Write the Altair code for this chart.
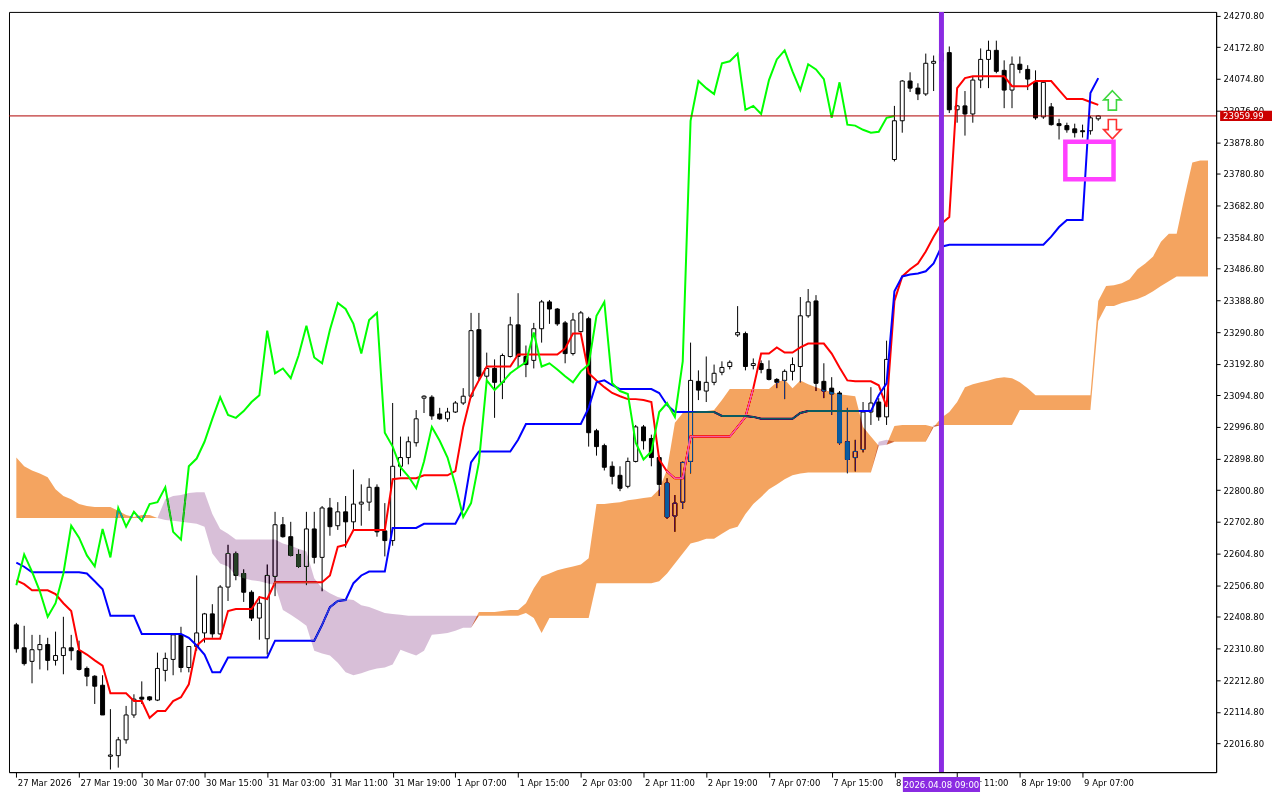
import altair as alt
import pandas as pd

# ---------------- candle data (H1 bars, index 0..138) ----------------
opens = [22384, 22313, 22271, 22307, 22323, 22274, 22289, 22313, 22304, 22249,
         22225, 22197, 21977, 21979, 22028, 22105, 22160, 22161, 22151, 22243,
         22277, 22353, 22252, 22317, 22359, 22418, 22356, 22501, 22605, 22543,
         22485, 22405, 22341, 22534, 22694, 22657, 22602, 22565, 22681, 22593,
         22746, 22691, 22734, 22703, 22758, 22764, 22810, 22675, 22645, 22875,
         22902, 22948, 23086, 23089, 23037, 23022, 23043, 23071, 23092, 23298,
         23154, 23178, 23135, 23215, 23313, 23215, 23203, 23301, 23384, 23362,
         23319, 23224, 23292, 23332, 22985, 22939, 22875, 22847, 22813, 22890,
         22997, 22961, 22902, 22823, 22721, 22764, 22890, 23138, 23108, 23135,
         23166, 23184, 23282, 23286, 23187, 23193, 23175, 23144, 23141, 23169,
         23184, 23341, 23387, 23138, 23117, 23102, 22951, 22902, 22927, 23043,
         23074, 23028, 23825, 23945, 24068, 24046, 24028, 24123, 24129, 24156,
         23979, 23991, 23966, 24071, 24135, 24163, 24101, 24040, 24120, 24104,
         24064, 23957, 23988, 23936, 23930, 23920, 23914, 23914, 23951]
highs = [22390, 22381, 22353, 22353, 22344, 22363, 22409, 22353, 22335, 22255,
         22228, 22228, 22123, 22037, 22133, 22169, 22209, 22163, 22298, 22298,
         22353, 22378, 22317, 22537, 22421, 22448, 22507, 22632, 22611, 22556,
         22491, 22473, 22571, 22734, 22718, 22703, 22617, 22734, 22734, 22752,
         22777, 22764, 22783, 22865, 22819, 22838, 22819, 22761, 23071, 22967,
         22967, 23049, 23095, 23095, 23056, 23056, 23077, 23117, 23350, 23350,
         23227, 23206, 23224, 23338, 23411, 23249, 23319, 23390, 23390, 23365,
         23325, 23350, 23356, 23338, 22991, 22945, 22890, 22875, 22902, 23003,
         23003, 22973, 22908, 22838, 22786, 22890, 23258, 23172, 23215, 23190,
         23200, 23203, 23371, 23292, 23209, 23203, 23203, 23148, 23175, 23212,
         23399, 23424, 23405, 23194, 23151, 23108, 23056, 22957, 23074, 23120,
         23086, 23264, 23991, 24071, 24095, 24061, 24153, 24147, 24169, 24175,
         23994, 24037, 24083, 24169, 24193, 24193, 24132, 24144, 24144, 24117,
         24101, 24071, 24000, 23951, 23939, 23936, 23933, 23960, 23962]
lows = [22298, 22258, 22203, 22246, 22243, 22258, 22231, 22274, 22243, 22194,
        22139, 22105, 21936, 21942, 22016, 22096, 22139, 22148, 22148, 22209,
        22228, 22237, 22237, 22304, 22329, 22344, 22353, 22458, 22522, 22455,
        22396, 22338, 22292, 22473, 22654, 22596, 22560, 22507, 22574, 22488,
        22660, 22678, 22623, 22675, 22691, 22737, 22657, 22596, 22629, 22844,
        22881, 22936, 23040, 23019, 23019, 23013, 23040, 23065, 23086, 23141,
        23141, 23025, 23083, 23212, 23181, 23151, 23178, 23258, 23316, 23310,
        23194, 23218, 23289, 22936, 22908, 22862, 22819, 22798, 22807, 22887,
        22927, 22875, 22783, 22712, 22672, 22743, 22853, 23080, 23074, 23126,
        23157, 23175, 23276, 23172, 23175, 23163, 23141, 23117, 23083, 23141,
        23135, 23335, 23108, 23086, 23034, 22942, 22853, 22859, 22918, 23003,
        23016, 23003, 23819, 23908, 24034, 24009, 24022, 24037, 24117, 23969,
        23939, 23899, 23939, 24046, 24046, 24092, 23984, 23984, 24092, 24040,
        23948, 23951, 23930, 23887, 23908, 23893, 23893, 23902, 23945]
closes = [22310, 22264, 22307, 22323, 22274, 22289, 22313, 22304, 22246, 22225,
          22194, 22105, 21981, 22028, 22105, 22154, 22154, 22152, 22249, 22280,
          22353, 22252, 22317, 22359, 22418, 22356, 22501, 22605, 22537, 22485,
          22405, 22451, 22537, 22694, 22657, 22599, 22565, 22681, 22593, 22746,
          22688, 22734, 22703, 22758, 22764, 22810, 22672, 22645, 22875, 22902,
          22951, 23022, 23092, 23031, 23022, 23043, 23071, 23092, 23295, 23154,
          23178, 23135, 23218, 23313, 23215, 23190, 23301, 23384, 23362, 23316,
          23224, 23328, 23350, 22979, 22936, 22872, 22844, 22807, 22890, 22997,
          22954, 22902, 22819, 22718, 22761, 22887, 23141, 23111, 23135, 23163,
          23181, 23197, 23289, 23184, 23193, 23175, 23144, 23135, 23169, 23190,
          23341, 23384, 23132, 23108, 23099, 22948, 22896, 22921, 23043, 23071,
          23028, 23206, 23945, 24068, 24046, 24028, 24123, 24129, 24153, 23979,
          23991, 23966, 24071, 24135, 24163, 24098, 24040, 24120, 24104, 24074,
          23954, 24064, 23933, 23930, 23917, 23908, 23911, 23954, 23960]

# ---------------- Ichimoku lines ----------------
tenkan = [22522, 22510, 22491, 22491, 22491, 22479, 22451, 22427, 22307, 22292,
          22274, 22258, 22172, 22172, 22172, 22148, 22148, 22096, 22117, 22117,
          22148, 22160, 22200, 22320, 22341, 22341, 22341, 22427, 22433, 22433,
          22433, 22470, 22464, 22516, 22516, 22516, 22516, 22516, 22516, 22516,
          22537, 22626, 22632, 22678, 22678, 22678, 22678, 22678, 22835, 22838,
          22838, 22838, 22847, 22847, 22847, 22847, 22860, 22997, 23095, 23141,
          23184, 23184, 23184, 23184, 23221, 23221, 23221, 23221, 23221, 23221,
          23240, 23286, 23286, 23163, 23141, 23120, 23102, 23092, 23083, 23083,
          23080, 23074, 22896, 22859, 22838, 22838, 22967, 22967, 22967, 22967,
          22967, 22967, 22997, 23028, 23117, 23224, 23224, 23243, 23227, 23227,
          23243, 23255, 23255, 23255, 23224, 23181, 23141, 23138, 23138, 23138,
          23126, 23059, 23387, 23463, 23485, 23503, 23540, 23586, 23626, 23647,
          24046, 24077, 24083, 24083, 24083, 24083, 24083, 24052, 24052, 24052,
          24068, 24068, 24068, 24040, 24012, 24012, 24012, 24003, 23994]
kijun = [22577, 22564, 22547, 22547, 22547, 22547, 22547, 22547, 22547, 22543,
         22519, 22494, 22412, 22412, 22412, 22412, 22356, 22356, 22356, 22356,
         22356, 22356, 22344, 22320, 22292, 22237, 22237, 22283, 22283, 22283,
         22283, 22283, 22283, 22335, 22335, 22335, 22335, 22335, 22335, 22384,
         22439, 22458, 22461, 22513, 22537, 22549, 22549, 22549, 22684, 22684,
         22684, 22684, 22697, 22697, 22697, 22697, 22697, 22743, 22887, 22921,
         22921, 22921, 22921, 22921, 22957, 23006, 23006, 23006, 23006, 23006,
         23006, 23006, 23006, 23056, 23135, 23141, 23126, 23114, 23114, 23114,
         23114, 23114, 23102, 23065, 23043, 23043, 23043, 23043, 23043, 23043,
         23031, 23031, 23031, 23031, 23028, 23022, 23022, 23022, 23022, 23022,
         23040, 23046, 23046, 23046, 23046, 23046, 23046, 23046, 23046, 23046,
         23095, 23132, 23417, 23463, 23469, 23472, 23479, 23503, 23555, 23561,
         23561, 23561, 23561, 23561, 23561, 23561, 23561, 23561, 23561, 23561,
         23561, 23561, 23586, 23616, 23638, 23638, 23638, 24031, 24077]
chikou = [22507, 22602, 22549, 22488, 22409, 22451, 22543, 22691, 22654, 22599,
          22565, 22681, 22593, 22746, 22688, 22734, 22706, 22758, 22764, 22810,
          22672, 22648, 22875, 22899, 22951, 23022, 23089, 23034, 23025, 23046,
          23074, 23095, 23295, 23163, 23178, 23148, 23218, 23310, 23212, 23194,
          23298, 23381, 23362, 23316, 23224, 23328, 23350, 22979, 22936, 22872,
          22844, 22807, 22890, 22997, 22954, 22902, 22816, 22718, 22761, 22887,
          23141, 23111, 23135, 23163, 23181, 23197, 23289, 23184, 23194, 23175,
          23154, 23135, 23169, 23190, 23341, 23384, 23132, 23108, 23099, 22948,
          22896, 22921, 23043, 23071, 23028, 23200, 23945, 24068, 24046, 24028,
          24123, 24129, 24153, 23979, 23991, 23966, 24071, 24135, 24163, 24098,
          24040, 24120, 24104, 24074, 23954, 24064, 23933, 23930, 23917, 23908,
          23911, 23954, 23960]
span_a = [22902, 22875, 22862, 22853, 22841, 22804, 22783, 22773, 22758, 22752,
          22749, 22749, 22749, 22737, 22724, 22718, 22724, 22724, 22715, 22709,
          22706, 22703, 22700, 22697, 22688, 22605, 22574, 22565, 22537, 22528,
          22522, 22519, 22513, 22507, 22430, 22415, 22399, 22381, 22304, 22295,
          22289, 22267, 22237, 22228, 22234, 22243, 22249, 22252, 22261, 22307,
          22298, 22289, 22304, 22353, 22356, 22359, 22366, 22375, 22375, 22424,
          22424, 22424, 22427, 22430, 22430, 22451, 22497, 22534, 22543, 22553,
          22559, 22565, 22571, 22590, 22758, 22758, 22761, 22764, 22770, 22773,
          22777, 22780, 22804, 22865, 23010, 23040, 23043, 23046, 23046, 23049,
          23080, 23114, 23114, 23114, 23114, 23114, 23114, 23135, 23144, 23117,
          23141, 23129, 23120, 23111, 23105, 23098, 23095, 23092, 22997, 22967,
          22939, 22942, 23000, 23003, 23003, 23003, 23003, 22997, 23025, 23043,
          23074, 23120, 23129, 23135, 23141, 23148, 23151, 23148, 23135, 23117,
          23095, 23095, 23095, 23095, 23095, 23095, 23095, 23095, 23387, 23433,
          23436, 23442, 23454, 23485, 23503, 23525, 23570, 23595, 23595, 23709,
          23816, 23822, 23822]
span_b = [22715, 22715, 22715, 22715, 22715, 22715, 22715, 22715, 22715, 22715,
          22715, 22715, 22715, 22715, 22715, 22715, 22715, 22715, 22715, 22773,
          22783, 22786, 22792, 22795, 22795, 22727, 22681, 22666, 22648, 22648,
          22648, 22648, 22648, 22648, 22636, 22629, 22620, 22611, 22528, 22497,
          22482, 22470, 22464, 22461, 22445, 22439, 22430, 22421, 22418, 22415,
          22412, 22412, 22412, 22412, 22412, 22412, 22412, 22412, 22412, 22412,
          22412, 22412, 22412, 22412, 22412, 22421, 22405, 22359, 22405, 22405,
          22405, 22405, 22405, 22405, 22513, 22513, 22513, 22513, 22513, 22513,
          22513, 22513, 22519, 22543, 22574, 22605, 22636, 22642, 22651, 22651,
          22666, 22681, 22688, 22727, 22758, 22780, 22804, 22819, 22835, 22847,
          22853, 22856, 22856, 22856, 22856, 22856, 22856, 22856, 22856, 22856,
          22951, 22957, 22951, 22951, 22951, 22951, 22951, 23003, 23003, 23003,
          23003, 23003, 23003, 23003, 23003, 23003, 23003, 23003, 23049, 23049,
          23049, 23049, 23049, 23049, 23049, 23049, 23049, 23049, 23325, 23371,
          23371, 23381, 23387, 23393, 23403, 23417, 23433, 23448, 23463, 23463,
          23463, 23463, 23463]

# ---------------- axes / annotations ----------------
x_tick_bars = [0, 8, 16, 24, 32, 40, 48, 56, 64, 72, 80, 88, 96, 104, 112, 120, 128, 136]
x_tick_labels = ["27 Mar 2026", "27 Mar 19:00", "30 Mar 07:00", "30 Mar 15:00",
                 "31 Mar 03:00", "31 Mar 11:00", "31 Mar 19:00", "1 Apr 07:00",
                 "1 Apr 15:00", "2 Apr 03:00", "2 Apr 11:00", "2 Apr 19:00",
                 "7 Apr 07:00", "7 Apr 15:00", "8 Apr 03:00", "8 Apr 11:00",
                 "8 Apr 19:00", "9 Apr 07:00"]
y_ticks = [22016.8, 22114.8, 22212.8, 22310.8, 22408.8, 22506.8, 22604.8, 22702.8,
           22800.8, 22898.8, 22996.8, 23094.8, 23192.8, 23290.8, 23388.8, 23486.8,
           23584.8, 23682.8, 23780.8, 23878.8, 23976.8, 24074.8, 24172.8, 24270.8]
last_price = 23959.99
marker_bar = 118
marker_label = "2026.04.08 09:00"
arrow_bar = 139.8
arrow_up_price = 24008
arrow_down_price = 23919
box_bars = [133.8, 139.95]
box_prices = [23764, 23880]

W, H = 1210, 762
FONT = "DejaVu Sans"

xs = alt.Scale(domain=[-0.3, 152.4], nice=False, zero=False)
ys = alt.Scale(domain=[21928, 24282], nice=False, zero=False)

label_expr = "[" + ",".join("'%s'" % s for s in x_tick_labels) + "][round(datum.value/8)]"
x_axis = alt.Axis(values=x_tick_bars, labelExpr=label_expr, title=None, grid=False,
                  tickSize=5, tickColor="black", domainColor="black", labelAlign="left",
                  labelPadding=1, labelFont=FONT, labelFontSize=8.5, labelColor="black",
                  labelFlush=False, labelOverlap=False, labelOffset=1)
y_axis = alt.Axis(orient="right", values=y_ticks, format=".2f", title=None, grid=False,
                  tickSize=4, tickColor="black", domainColor="black", labelPadding=3,
                  labelFont=FONT, labelFontSize=8.5, labelColor="black",
                  labelFlush=False, labelOverlap=False)

X = alt.X("bar:Q", scale=xs, axis=x_axis)

candles = pd.DataFrame({"bar": list(range(len(opens))), "open": opens, "high": highs,
                        "low": lows, "close": closes})
candles["bull"] = candles["close"] >= candles["open"]
lines = pd.DataFrame({"bar": list(range(len(tenkan))), "tenkan": tenkan, "kijun": kijun})
chik = pd.DataFrame({"bar": list(range(len(chikou))), "chikou": chikou})
cloud = pd.DataFrame({"bar": list(range(len(span_a))), "a": span_a, "b": span_b})
cloud["lo"] = cloud[["a", "b"]].min(axis=1)

wicks = alt.Chart(candles).mark_rule(color="black", strokeWidth=1).encode(
    x=X, y=alt.Y("low:Q", scale=ys, axis=y_axis), y2="high:Q")
bodies = alt.Chart(candles).mark_bar(size=4, stroke="black", strokeWidth=1).encode(
    x=X, y=alt.Y("open:Q", scale=ys, axis=y_axis), y2="close:Q",
    fill=alt.condition("datum.bull", alt.value("white"), alt.value("black")))
tk = alt.Chart(lines).mark_line(color="#FF0000", strokeWidth=2).encode(
    x=X, y=alt.Y("tenkan:Q", scale=ys, axis=y_axis))
kj = alt.Chart(lines).mark_line(color="#0000FF", strokeWidth=2).encode(
    x=X, y=alt.Y("kijun:Q", scale=ys, axis=y_axis))
ck = alt.Chart(chik).mark_line(color="#00FF00", strokeWidth=2).encode(
    x=X, y=alt.Y("chikou:Q", scale=ys, axis=y_axis))
# cloud drawn on top with a difference blend (MT5 XOR style): white -> sandybrown / thistle
cloud_up = alt.Chart(cloud).mark_area(color="#0B5B9F", blend="difference", opacity=1).encode(
    x=X, y=alt.Y("a:Q", scale=ys, axis=y_axis), y2="lo:Q")
cloud_dn = alt.Chart(cloud).mark_area(color="#274027", blend="difference", opacity=1).encode(
    x=X, y=alt.Y("b:Q", scale=ys, axis=y_axis), y2="lo:Q")

price_df = pd.DataFrame({"price": [last_price], "hi": [last_price + 16], "lo": [last_price - 16],
                         "txt": ["%.2f" % last_price]})
price_line = alt.Chart(price_df).mark_rule(color="#B00000", strokeWidth=1).encode(
    y=alt.Y("price:Q", scale=ys, axis=y_axis))
vline_df = pd.DataFrame({"bar": [marker_bar], "b0": [marker_bar - 4.92], "b1": [marker_bar + 4.92],
                         "txt": [marker_label]})
vline = alt.Chart(vline_df).mark_rule(color="#8A2BE2", strokeWidth=5).encode(x=X)

up_path = "M0,-1L0.9,-0.05L0.42,-0.05L0.42,1L-0.42,1L-0.42,-0.05L-0.9,-0.05Z"
dn_path = "M0,1L0.9,0.05L0.42,0.05L0.42,-1L-0.42,-1L-0.42,0.05L-0.9,0.05Z"
arr_df = pd.DataFrame({"bar": [arrow_bar], "up": [arrow_up_price], "dn": [arrow_down_price]})
arrow_up = alt.Chart(arr_df).mark_point(shape=up_path, size=380, filled=False,
                                        stroke="#3FD83F", strokeWidth=1.6, opacity=1).encode(
    x=X, y=alt.Y("up:Q", scale=ys, axis=y_axis))
arrow_dn = alt.Chart(arr_df).mark_point(shape=dn_path, size=380, filled=False,
                                        stroke="#FF3030", strokeWidth=1.6, opacity=1).encode(
    x=X, y=alt.Y("dn:Q", scale=ys, axis=y_axis))
box_df = pd.DataFrame({"b0": [box_bars[0]], "b1": [box_bars[1]],
                       "p0": [box_prices[0]], "p1": [box_prices[1]]})
box = alt.Chart(box_df).mark_rect(fillOpacity=0, stroke="#FF40FF", strokeWidth=4.5).encode(
    x=alt.X("b0:Q", scale=xs, axis=x_axis), x2="b1:Q",
    y=alt.Y("p0:Q", scale=ys, axis=y_axis), y2="p1:Q")

price_box = alt.Chart(price_df).mark_rect(color="#CC0000").encode(
    x=alt.value(W + 4), x2=alt.value(W + 56),
    y=alt.Y("hi:Q", scale=ys, axis=y_axis), y2="lo:Q")
price_txt = alt.Chart(price_df).mark_text(color="white", font=FONT, fontSize=8.5,
                                          align="left", baseline="middle").encode(
    x=alt.value(W + 7), y=alt.Y("price:Q", scale=ys, axis=y_axis), text="txt:N")
date_box = alt.Chart(vline_df).mark_rect(color="#8A2BE2").encode(
    x=alt.X("b0:Q", scale=xs, axis=x_axis), x2="b1:Q", y=alt.value(H + 5), y2=alt.value(H + 20))
date_txt = alt.Chart(vline_df).mark_text(color="white", font=FONT, fontSize=8.5,
                                         align="center", baseline="middle").encode(
    x=X, y=alt.value(H + 12.5), text="txt:N")

chart = alt.layer(
    wicks, bodies, tk, kj, ck, cloud_up, cloud_dn, price_line, vline,
    arrow_up, arrow_dn, box, price_box, price_txt, date_box, date_txt
).properties(
    width=W, height=H,
    padding={"left": 0, "top": 0, "right": 0, "bottom": 0}
).configure(background="white").configure_view(
    stroke="black", strokeWidth=1, fill="white"
)

chart.save("out.html", embed_options={"renderer": "svg", "actions": False})
